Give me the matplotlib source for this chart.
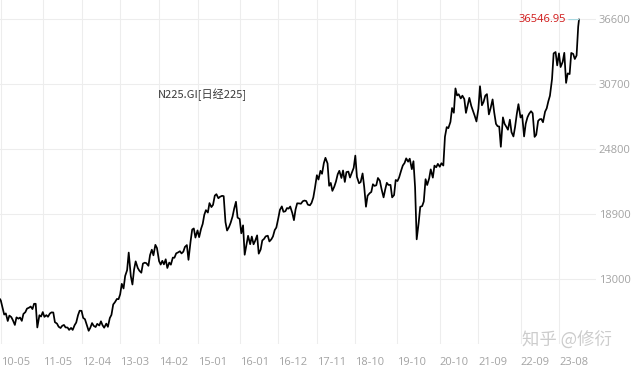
import numpy as np
import pandas as pd
import matplotlib
matplotlib.use("Agg")
import matplotlib.pyplot as plt

# ---------------- data (semi-monthly readings, 1st & 15th) ----------------
start_date = "2010-04-26"
start_value = 11165
end_date = "2024-01-22"
end_value = 36546.95

v2010 = [11050, 10460, 9770, 9880, 9190, 9680, 9540, 9250, 8830, 9520, 9400, 9500,
         9200, 9830, 9990, 10310]
v2011 = [10400, 10500, 10270, 10750, 10750, 8600, 9710, 9590, 10000, 9560, 9720, 9570,
         9870, 9970, 9960, 9080, 8950, 8670, 8550, 8750, 8830, 8600, 8600, 8380]
v2012 = [8560, 8380, 8810, 9050, 9710, 10120, 10110, 9470, 9350, 8900, 8300, 8570,
         9000, 8750, 8640, 8930, 8780, 9160, 8800, 8580, 8950, 8660, 9460, 9740]
v2013 = [10690, 10880, 11190, 11170, 11610, 12560, 12140, 13280, 13800, 15400, 13260, 12500,
         13850, 14600, 14000, 13750, 13570, 14400, 14480, 14440, 14200, 15170, 15660, 15150]
v2014 = [16100, 15810, 14620, 14310, 14650, 14330, 14790, 14000, 14490, 14300, 14940, 14930,
         15330, 15400, 15520, 15320, 15480, 15910, 16080, 14740, 16410, 17490, 17590, 16760]
v2015 = [17410, 16800, 17560, 18000, 18830, 19250, 19030, 19890, 19530, 19730, 20570, 20700,
         20330, 20460, 20550, 20520, 18170, 17400, 17720, 18100, 18680, 19390, 20010, 18570]
v2016 = [18450, 17150, 17870, 15200, 16090, 16920, 16160, 16850, 16150, 16470, 16960, 15300,
         15680, 16500, 16640, 16870, 16930, 16410, 16600, 16860, 17440, 17670, 18510, 19270]
v2017 = [19590, 19100, 19150, 19440, 19390, 19580, 18980, 18340, 19310, 19870, 19860, 19830,
         20060, 20120, 20080, 19750, 19690, 19910, 20400, 21260, 22420, 22030, 22820, 22550]
v2018 = [23510, 24000, 23490, 21460, 21720, 21000, 21390, 21840, 22510, 22820, 22170, 22850,
         21810, 22700, 22750, 22210, 22710, 23090, 24200, 22270, 21690, 21800, 22580, 21370]
v2019 = [19560, 20560, 20790, 20900, 21600, 21450, 21510, 22170, 21920, 21190, 20410, 21120,
         21730, 21540, 21540, 20410, 20620, 21990, 21890, 22210, 22850, 23300, 23530, 23950]
v2020 = [23650, 23920, 22970, 23690, 21340, 16600, 18070, 19550, 19620, 20040, 22060, 21530,
         22120, 22950, 22200, 23290, 23140, 23450, 23190, 23510, 23300, 25910, 26790, 26690]
v2021 = [27260, 28520, 28090, 30300, 29660, 29770, 29390, 29640, 29330, 28080, 28810, 29440,
         28710, 28280, 27780, 27300, 28450, 30500, 28770, 29070, 29650, 29780, 27940, 28460]
v2022 = [29300, 28120, 27080, 26870, 26840, 25000, 27670, 27090, 26820, 26550, 27460, 26330,
         25940, 26790, 27990, 28870, 27660, 27880, 25940, 27090, 27680, 27990, 28230, 28050]
v2023 = [25900, 26090, 27350, 27500, 27520, 27230, 28190, 28490, 29120, 29630, 31150, 33480,
         33600, 32390, 33480, 32240, 32710, 33530, 30800, 31660, 31600, 33520, 33430, 32970]
v2024 = [33290, 35900]

tick_dates = ["2010-05-06", "2011-05-02", "2012-04-02", "2013-03-01", "2014-02-03",
              "2015-01-05", "2016-01-04", "2016-12-01", "2017-11-01", "2018-10-01",
              "2019-10-01", "2020-10-01", "2021-09-01", "2022-09-01", "2023-08-01"]
tick_labels = ["10-05", "11-05", "12-04", "13-03", "14-02", "15-01", "16-01", "16-12",
               "17-11", "18-10", "19-10", "20-10", "21-09", "22-09", "23-08"]
y_ticks = [7100, 13000, 18900, 24800, 30700, 36600]
y_labels = ["", "13000", "18900", "24800", "30700", "36600"]
title = "N225.GI[日经225]"
watermark = "知乎 @修衍"

# ---------------- build series ----------------
mid_dates = pd.date_range("2010-05-01", "2024-01-15", freq="SMS")
values = ([start_value] + v2010 + v2011 + v2012 + v2013 + v2014 + v2015 + v2016 + v2017
          + v2018 + v2019 + v2020 + v2021 + v2022 + v2023 + v2024 + [end_value])
dates = np.array([np.datetime64(start_date)] + list(mid_dates.values.astype("datetime64[D]"))
                 + [np.datetime64(end_date)], dtype="datetime64[D]")
assert len(dates) == len(values), (len(dates), len(values))

origin = np.datetime64(start_date)
x = np.busday_count(origin, dates)
xt = np.busday_count(origin, np.array(tick_dates, dtype="datetime64[D]"))

# ---------------- figure ----------------
W, H = 640, 368
fig = plt.figure(figsize=(W / 100, H / 100), dpi=100)
ax = fig.add_axes([0, 1 - 344 / H, 596 / W, 344 / H])

ax.plot(x, values, color="black", lw=1.25, zorder=3)

ax.set_xlim(0, x[-1] * 596 / 579)
ax.set_ylim(7100, 36600 + 19 * (36600 - 7100) / 325)

ax.set_xticks(xt)
ax.set_xticklabels(tick_labels)
for lbl in ax.get_xticklabels():
    lbl.set_horizontalalignment("left")
ax.set_yticks(y_ticks)
ax.set_yticklabels(y_labels)
ax.yaxis.tick_right()

ax.tick_params(axis="x", length=0, pad=9.5, labelsize=8, colors="#a3a3a3")
ax.tick_params(axis="y", length=0, pad=2, labelsize=8, colors="#a3a3a3")
for lbl in ax.get_xticklabels() + ax.get_yticklabels():
    lbl.set_fontfamily("Open Sans")

for s in ax.spines.values():
    s.set_visible(False)
ax.grid(True, color="#ededed", lw=0.8)
ax.set_axisbelow(True)

ax.annotate(f"{end_value:.2f}", xy=(x[-1], end_value), xytext=(-13, 0),
            textcoords="offset pixels", ha="right", va="center",
            color="#d01818", fontsize=8, family="Open Sans",
            arrowprops=dict(arrowstyle="-", color="#a8d8e0", lw=0.8,
                            shrinkA=0, shrinkB=0))

fig.text(158 / W, 1 - 95 / H, title, fontsize=8, color="#3a3a3a", va="center",
         family=["Noto Sans CJK SC", "DejaVu Sans"])
fig.text(522 / W, 1 - 341 / H, watermark, fontsize=12.5, color="#cccccc", va="center",
         family=["Noto Sans CJK SC", "DejaVu Sans"], zorder=10)

fig.savefig("out.png", dpi=100)
